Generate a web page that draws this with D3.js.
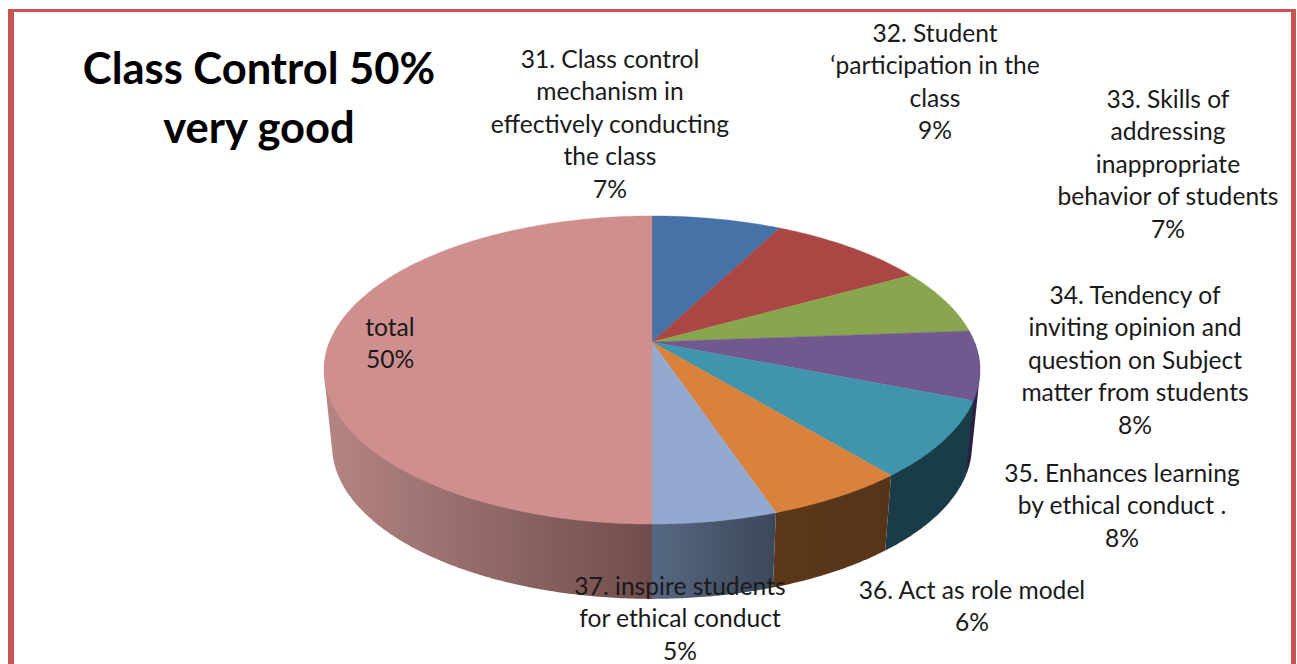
<!DOCTYPE html>
<html><head><meta charset="utf-8">
<script src="https://cdn.jsdelivr.net/npm/d3@7/dist/d3.min.js"></script>
<style>html,body{margin:0;padding:0;background:#fff;overflow:hidden}svg{display:block}</style>
</head><body><svg id="c" width="1297" height="664"></svg>
<script>
const titleLines = ["Class Control 50%", "very good"];
const categories = [
  "31. Class control mechanism in effectively conducting the class",
  "32. Student ‘participation in the class",
  "33. Skills of addressing inappropriate behavior of students",
  "34. Tendency of inviting opinion and question on Subject matter from students",
  "35. Enhances learning by ethical conduct .",
  "36. Act as role model",
  "37. inspire students for ethical conduct",
  "total"
];
const labelLines = [
  ["31. Class control","mechanism in","effectively conducting","the class"],
  ["32. Student","‘participation in the","class"],
  ["33. Skills of","addressing","inappropriate","behavior of students"],
  ["34. Tendency of","inviting opinion and","question on Subject","matter from students"],
  ["35. Enhances learning","by ethical conduct ."],
  ["36. Act as role model"],
  ["37. inspire students","for ethical conduct"],
  ["total"]
];
const percentLabels = ["7%","9%","7%","8%","8%","6%","5%","50%"];
const values = [7.6,9.3,6.9,7.2,8,5.85,5.15,50];
const topColors = ["#4572a7","#aa4643","#89a54e","#71588f","#4095ad","#d8823d","#93a9cf","#cf8f8e"];
const sideFrom = ["#2c4768","#6a2c2a","#55662f","#2a2045","#1a3c48","#5c3819","#566882","#b48583"];
const sideTo   = ["#2c4768","#6a2c2a","#55662f","#2a2045","#1a3c48","#56341a","#3c475a","#704d4b"];

const labelX = [610,935,1168,1135,1122,972,680,390];
const labelY = [59,33,99,295,473,590,586,327];
const lineStep = 32.5;
const FONT = "Lato, 'Open Sans', sans-serif";

const svg = d3.select("#c");
const defs = svg.append("defs");

const cx = 652, k = 0.1818;
const upperRim = {A:322.5, B:149, y:342};
const lowerRim = {A:314.6, B:148, y:418};
function proj(p,a){
  const w = 1 + k*Math.cos(a);
  return [cx + p.A*Math.sin(a)/w, p.y - p.B*Math.cos(a)/w];
}
const arcs = d3.pie().sort(null).value(d=>d)(values);
function sample(p,a0,a1){
  const n = Math.max(2,Math.ceil((a1-a0)/0.01));
  return d3.range(n+1).map(i=>proj(p,a0+(a1-a0)*i/n));
}
const pathLine = d3.line();

// walls (front half, drawn back to front)
const wallOrder = [7,3,4,5,6];
wallOrder.forEach(i=>{
  const d = arcs[i];
  const a0 = Math.max(d.startAngle, i===3 ? Math.PI/2 : d.startAngle);
  const a1 = i===7 ? 1.5*Math.PI : d.endAngle;
  const pts = sample(upperRim,a0,a1).concat(sample(lowerRim,a0,a1));
  const hull = d3.polygonHull(pts);
  const xs = pts.map(q=>q[0]);
  const id = "g"+i;
  const g = defs.append("linearGradient").attr("id",id).attr("gradientUnits","userSpaceOnUse")
    .attr("x1",d3.min(xs)).attr("x2",d3.max(xs)).attr("y1",0).attr("y2",0);
  g.append("stop").attr("offset",0).attr("stop-color",sideFrom[i]);
  g.append("stop").attr("offset",1).attr("stop-color",sideTo[i]);
  svg.append("path").attr("d",pathLine(hull)+"Z").attr("fill",`url(#${id})`);
});

// top faces
arcs.forEach((d,i)=>{
  const pts = [[cx,upperRim.y]].concat(sample(upperRim,d.startAngle,d.endAngle));
  svg.append("path").attr("d",pathLine(pts)+"Z").attr("fill",topColors[i])
    .attr("stroke",topColors[i]).attr("stroke-width",0.4);
});

// border
const bc = "#c55555";
svg.append("rect").attr("x",8).attr("y",9).attr("width",6).attr("height",655).attr("fill",bc);
svg.append("rect").attr("x",8).attr("y",9).attr("width",1288).attr("height",3).attr("fill",bc);
svg.append("rect").attr("x",1291).attr("y",9).attr("width",5).attr("height",655).attr("fill",bc);

// title
titleLines.forEach((t,i)=>{
  svg.append("text").text(t).attr("x",259).attr("y",84+i*59)
    .attr("text-anchor","middle").attr("font-family",FONT)
    .attr("font-weight",700).attr("font-size",43.5).attr("fill","#000");
});

// labels
categories.forEach((c,i)=>{
  labelLines[i].concat([percentLabels[i]]).forEach((t,j)=>{
    svg.append("text").text(t).attr("x",labelX[i]).attr("y",labelY[i]+j*lineStep)
      .attr("dy","0.35em").attr("text-anchor","middle").attr("font-family",FONT)
      .attr("font-size",24.6).attr("fill","#1a1a1a");
  });
});
</script></body></html>
